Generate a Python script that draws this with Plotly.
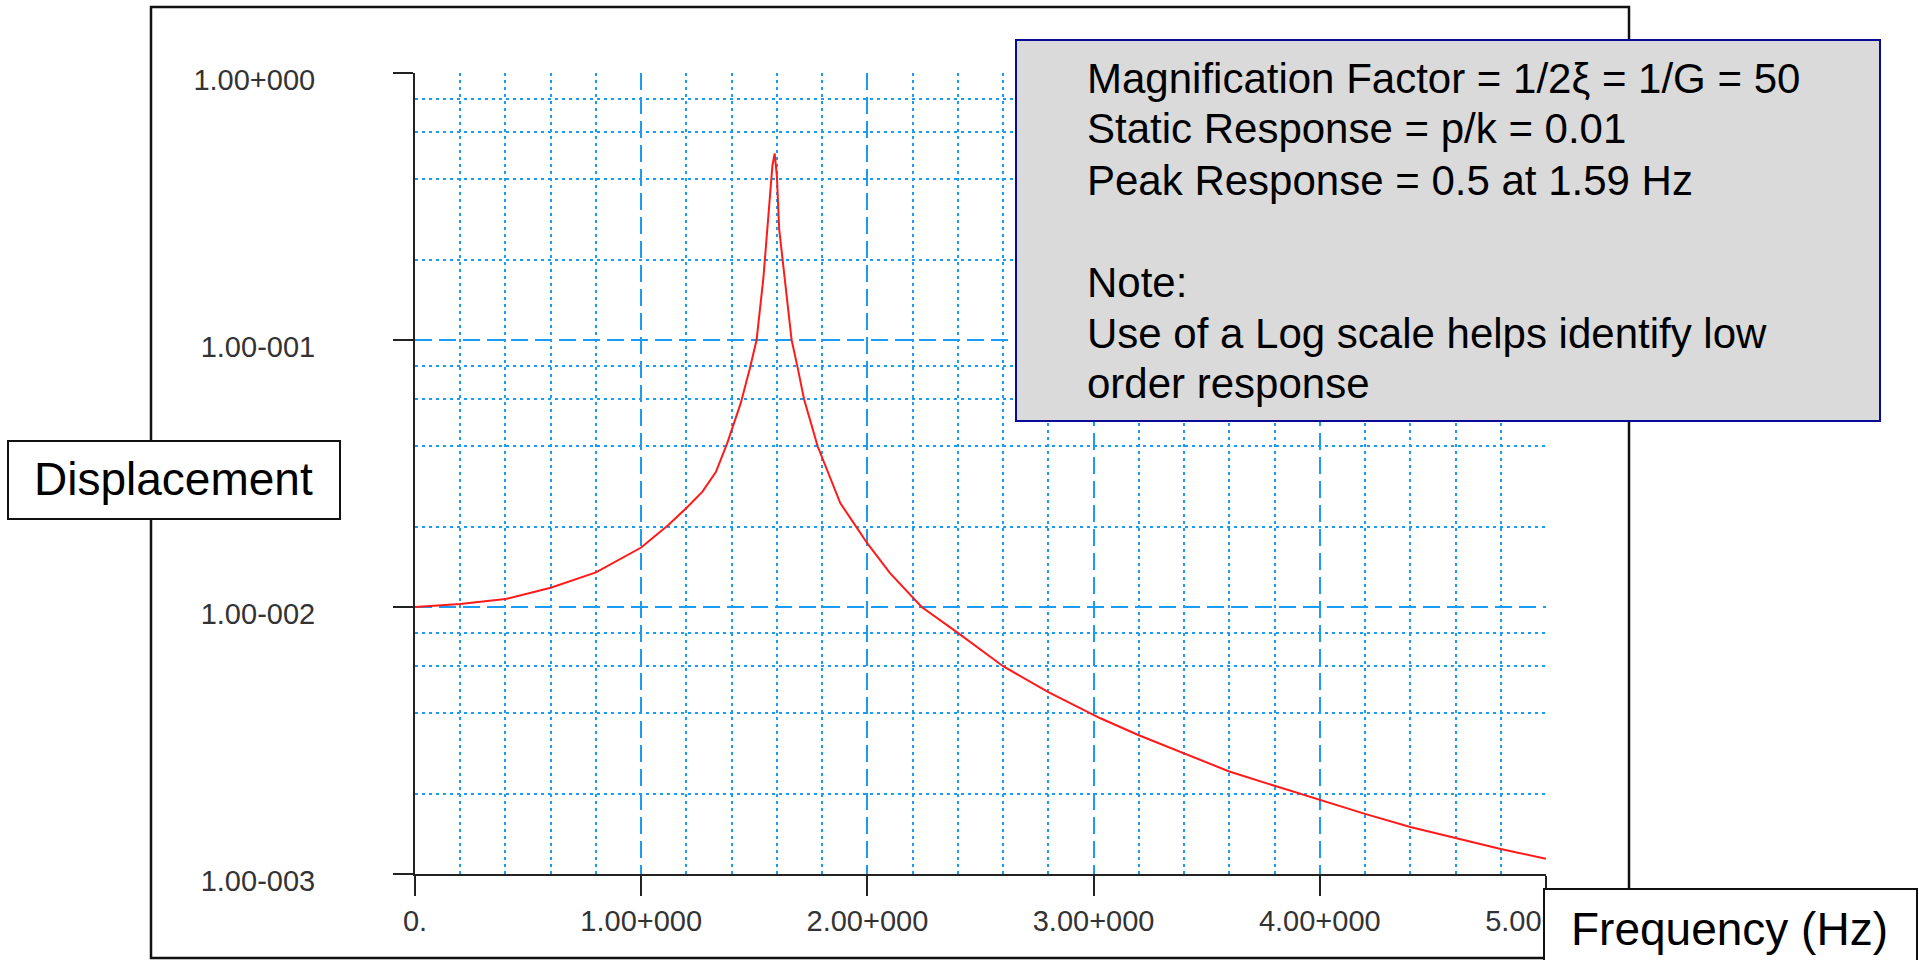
import plotly.graph_objects as go

# Canvas and plot-area edges (pixels)
W, H = 1919, 960
L, R, T, B = 415, 1546, 73, 874

# Frequency response of the single-degree-of-freedom system
freq_hz = [0.0, 0.2, 0.4, 0.6, 0.8, 1.0, 1.12, 1.2, 1.27, 1.33, 1.38, 1.44, 1.48,
           1.51, 1.54, 1.56, 1.57, 1.58, 1.59, 1.60, 1.61, 1.63, 1.665, 1.69,
           1.72, 1.78, 1.88, 1.95, 2.0, 2.1, 2.2, 2.24, 2.4, 2.6, 2.8, 2.94,
           3.03, 3.2, 3.4, 3.6, 3.8, 4.0, 4.2, 4.4, 4.6, 4.8, 5.0]
displacement = [0.0100, 0.01026, 0.01071, 0.0118, 0.01348, 0.0167, 0.0203, 0.0235,
                0.0270, 0.0320, 0.041, 0.058, 0.078, 0.100, 0.17, 0.28, 0.36,
                0.45, 0.50, 0.41, 0.26, 0.18, 0.100, 0.080, 0.060, 0.040, 0.0245,
                0.020, 0.0173, 0.0134, 0.0108, 0.0100, 0.0080, 0.0060, 0.0048,
                0.00417, 0.00383, 0.00331, 0.00283, 0.00242, 0.00214, 0.00189,
                0.00168, 0.00150, 0.00136, 0.00124, 0.00114]

x_tick_vals = [0, 1, 2, 3, 4, 5]
x_tick_text = ["0.", "1.00+000", "2.00+000", "3.00+000", "4.00+000", "5.00+000"]
y_tick_vals = [0.001, 0.01, 0.1, 1.0]
y_tick_text = ["1.00-003", "1.00-002", "1.00-001", "1.00+000"]
x_minor_vals = [0.2, 0.4, 0.6, 0.8, 1.2, 1.4, 1.6, 1.8, 2.2, 2.4, 2.6, 2.8,
                3.2, 3.4, 3.6, 3.8, 4.2, 4.4, 4.6, 4.8]
y_minor_vals = [0.002, 0.004, 0.006, 0.008, 0.02, 0.04, 0.06, 0.08,
                0.2, 0.4, 0.6, 0.8]

note_lines = [
    "Magnification Factor = 1/2\u03be = 1/G = 50",
    "Static Response = p/k = 0.01",
    "Peak Response = 0.5 at 1.59 Hz",
    "",
    "Note:",
    "Use of a Log scale helps identify low",
    "order response",
]
y_label = "Displacement"
x_label = "Frequency (Hz)"

FONT = "Liberation Sans, Arial, sans-serif"
GRID = "#1a9cf2"
AXIS = "#222222"


def px_x(p):
    return (p - L) / (R - L)


def px_y(p):
    return (B - p) / (B - T)


fig = go.Figure()
fig.add_trace(go.Scatter(
    x=freq_hz, y=displacement, mode="lines",
    line=dict(color="#ff1a1a", width=2), showlegend=False, hoverinfo="skip",
))

axis_common = dict(
    showline=True, linecolor=AXIS, linewidth=2,
    ticks="outside", ticklen=20, tickwidth=2, tickcolor=AXIS,
    showgrid=True, gridcolor=GRID, gridwidth=2.2, griddash="17px,7px",
    zeroline=False, automargin=False,
    tickfont=dict(family=FONT, size=29, color="#333333"),
)
minor_grid = dict(showgrid=True, gridcolor=GRID, gridwidth=2.2,
                  griddash="3px,4px", ticks="")

fig.update_xaxes(
    range=[0, 5], tickmode="array", tickvals=x_tick_vals, ticktext=x_tick_text,
    ticklabelstandoff=0,
    minor=dict(tickvals=x_minor_vals, **minor_grid),
    **axis_common,
)
fig.update_yaxes(
    type="log", range=[-3, 0], tickmode="array", tickvals=y_tick_vals,
    ticktext=y_tick_text, ticklabelstandoff=72, ticklabelshift=7,
    minor=dict(tickvals=y_minor_vals, **minor_grid),
    **axis_common,
)

shapes = []
# outer frame around the graph
shapes.append(dict(type="rect", xref="paper", yref="paper",
                   x0=px_x(151), x1=px_x(1629), y0=px_y(7), y1=px_y(958),
                   line=dict(color="#111111", width=2.5), fillcolor="rgba(0,0,0,0)",
                   layer="above"))
# axis title boxes
shapes.append(dict(type="rect", xref="paper", yref="paper",
                   x0=px_x(8), x1=px_x(340), y0=px_y(441), y1=px_y(519),
                   line=dict(color="#111111", width=2), fillcolor="white",
                   layer="above"))
shapes.append(dict(type="rect", xref="paper", yref="paper",
                   x0=px_x(1544), x1=px_x(1917), y0=px_y(889), y1=px_y(975),
                   line=dict(color="#111111", width=2), fillcolor="white",
                   layer="above"))
# note box
shapes.append(dict(type="rect", xref="paper", yref="paper",
                   x0=px_x(1016), x1=px_x(1880), y0=px_y(40), y1=px_y(421),
                   line=dict(color="#0a0a96", width=2), fillcolor="#dadada",
                   layer="above"))

annotations = []
for i, line in enumerate(note_lines):
    if not line:
        continue
    annotations.append(dict(
        text=line, xref="paper", yref="paper",
        x=px_x(1085), y=px_y(78 + 51 * i), xanchor="left", yanchor="middle",
        showarrow=False, font=dict(family=FONT, size=42, color="black"),
    ))
annotations.append(dict(
    text=y_label, xref="paper", yref="paper", x=px_x(173), y=px_y(479),
    xanchor="center", yanchor="middle", showarrow=False,
    font=dict(family=FONT, size=46, color="black"),
))
annotations.append(dict(
    text=x_label, xref="paper", yref="paper", x=px_x(1729), y=px_y(929),
    xanchor="center", yanchor="middle", showarrow=False,
    font=dict(family=FONT, size=46, color="black"),
))

fig.update_layout(
    width=W, height=H, autosize=False,
    margin=dict(l=L, r=W - R, t=T, b=H - B, pad=0),
    paper_bgcolor="white", plot_bgcolor="white",
    shapes=shapes, annotations=annotations, showlegend=False,
)

fig.write_html("out.html", config={"displayModeBar": False})
